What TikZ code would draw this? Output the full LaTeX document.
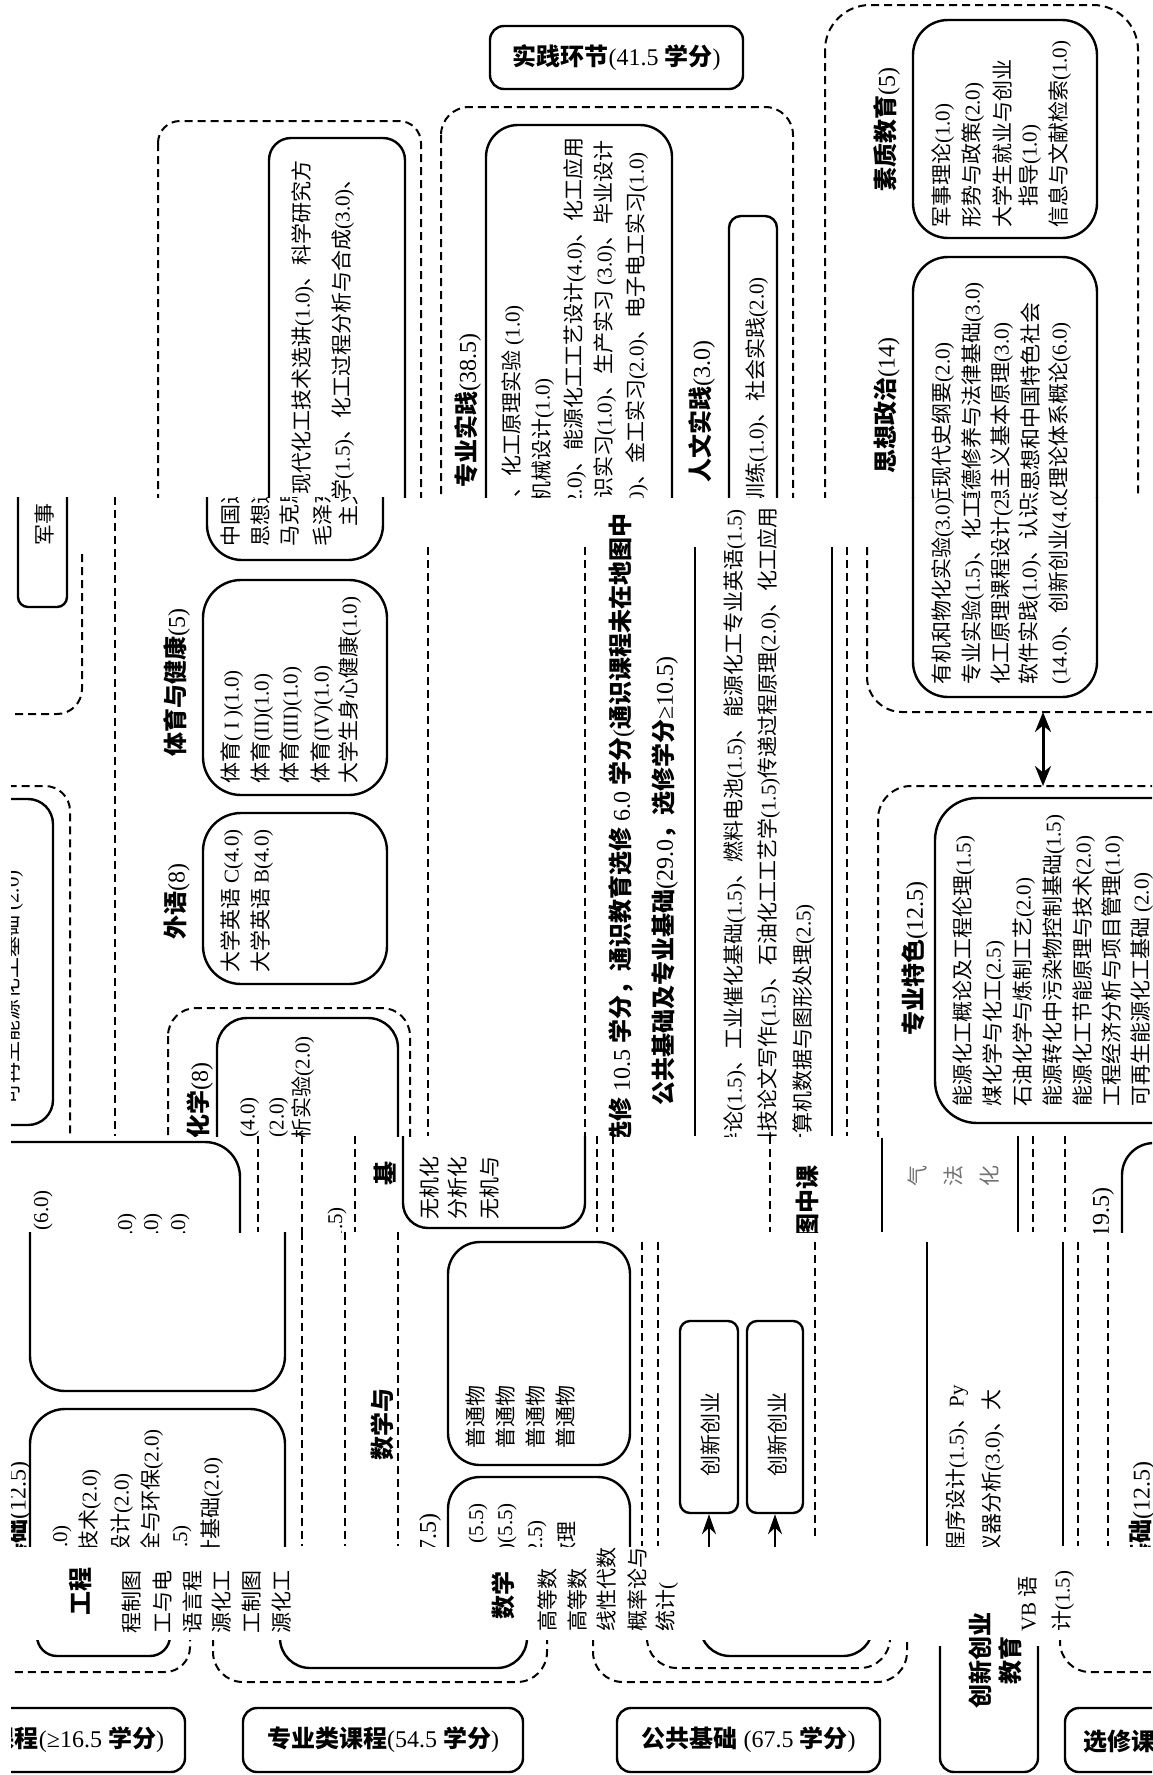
\documentclass[tikz,border=0pt]{standalone}
\usepackage{fontspec}
\setmainfont{Liberation Serif}[BoldFont={Liberation Serif}]
\newfontfamily\cjkf{Noto Sans CJK SC}
\XeTeXinterchartokenstate=1
\newXeTeXintercharclass\cjkcls
\makeatletter
\count@="3000
\loop\XeTeXcharclass\count@=\cjkcls\ifnum\count@<"303F\advance\count@\@ne\repeat
\count@="4E00
\loop\XeTeXcharclass\count@=\cjkcls\ifnum\count@<"9FFF\advance\count@\@ne\repeat
\count@="FF01
\loop\XeTeXcharclass\count@=\cjkcls\ifnum\count@<"FF5E\advance\count@\@ne\repeat
\makeatother
\XeTeXinterchartoks 0 \cjkcls = {\cjkf}
\XeTeXinterchartoks 4095 \cjkcls = {\cjkf}
\XeTeXinterchartoks \cjkcls 0 = {\rmfamily}
\XeTeXinterchartoks \cjkcls 4095 = {\rmfamily}
\usetikzlibrary{arrows.meta}
\tikzset{
  vt/.style={rotate=90, inner sep=0pt, font=\fontsize{21}{25}\selectfont},
  vh/.style={rotate=90, inner sep=0pt, font=\fontsize{24}{28}\selectfont\bfseries},
  sbox/.style={draw, line width=2.4pt, rounded corners=#1},
  sbox/.default=30pt,
  dbox/.style={draw, line width=2pt, dash pattern=on 8pt off 5pt, rounded corners=#1},
  dbox/.default=30pt,
  dl/.style={draw, line width=2pt, dash pattern=on 8pt off 5pt},
  sl/.style={draw, line width=2.4pt},
  lbl/.style={draw, line width=2.4pt, rounded corners=14pt, inner sep=0pt, font=\fontsize{24}{28}\selectfont\bfseries},
  hbox/.style={draw, line width=2.4pt, rounded corners=10pt, inner sep=0pt},
  arr/.style={line width=2.4pt, -{Stealth[length=20pt,width=14pt]}},
  darr/.style={line width=3pt, {Stealth[length=20pt,width=16pt]}-{Stealth[length=20pt,width=16pt]}},
  frag/.style={rotate=90, inner sep=0pt, font=\fontsize{21}{25}\selectfont, text=black!55},
}
\begin{document}
\begin{tikzpicture}[x=1pt,y=-1pt]
\useasboundingbox (0,0) rectangle (1152,1775);
\fill[white] (0,0) rectangle (1152,1775);
\begin{scope}
\clip (11,0) rectangle (1152,1775);

% ================= TOP BAND =================
\begin{scope}
\clip (11,0) rectangle (1152,497);
\draw[dbox=22pt] (158,121) rectangle (421,700);
\draw[sbox=22pt] (269,138) rectangle (405,700);
\node[vt, anchor=east] (a1) at (303,160) {现代化工技术选讲(1.0)、科学研究方};
\node[vt, anchor=east] (a2) at (343,168) {数学(1.5)、化工过程分析与合成(3.0)、};
\node[lbl, minimum width=253pt, minimum height=63pt] (sj) at (616.5,57.5) {实践环节(41.5 学分)};
\draw[dbox=28pt] (441,107) rectangle (793,700);
\draw[sbox=32pt] (486,125) rectangle (672,700);
\node[vh, anchor=east] (zysj) at (468,333) {专业实践(38.5)};
\node[vt, anchor=east] (b1) at (513,305) {有机和物化实验(3.0)、化工原理实验 (1.0)};
\node[vt, anchor=east] (b2) at (543,378) {专业实验(1.5)、化工机械设计(1.0)};
\node[vt, anchor=east] (b3) at (575,137) {化工原理课程设计(2.0)、能源化工工艺设计(4.0)、化工应用};
\node[vt, anchor=east] (b4) at (605,140) {软件实践(1.0)、认识实习(1.0)、生产实习 (3.0)、毕业设计};
\node[vt, anchor=east] (b5) at (637,152) {(14.0)、创新创业(4.0)、金工实习(2.0)、电子电工实习(1.0)};
\node[vh, anchor=east] (rwsj) at (702,340) {人文实践(3.0)};
\draw[sbox=12pt] (729,216) rectangle (777,700);
\node[vt, anchor=east] (rw1) at (757,277) {军事训练(1.0)、社会实践(2.0)};
\draw[dbox=45pt] (825,5) rectangle (1138,700);
\draw[sbox=35pt] (913,20) rectangle (1097,238);
\node[vh, anchor=east] (szjy) at (887,67) {素质教育(5)};
\node[vt, anchor=west] (c1) at (943,228) {军事理论(1.0)};
\node[vt, anchor=west] (c2) at (973,228) {形势与政策(2.0)};
\node[vt, anchor=west] (c3) at (1002,228) {大学生就业与创业};
\node[vt, anchor=west] (c4) at (1030,207) {指导(1.0)};
\node[vt, anchor=west] (c5) at (1060,228) {信息与文献检索(1.0)};
\draw[sbox=35pt] (913,257) rectangle (1097,700);
\node[vh, anchor=east] (sxzz) at (887,337) {思想政治(14)};
\node[vt, anchor=east] (d1) at (943,342) {中国近现代史纲要(2.0)};
\node[vt, anchor=east] (d2) at (973,282) {思想道德修养与法律基础(3.0)};
\node[vt, anchor=east] (d3) at (1002,322) {马克思主义基本原理(3.0)};
\node[vt, anchor=east] (d4) at (1030,302) {毛泽东思想和中国特色社会};
\node[vt, anchor=east] (d5) at (1060,322) {主义理论体系概论(6.0)};
\end{scope}

% ================= MIDDLE BAND =================
\begin{scope}
\clip (11,497) rectangle (1152,1136);
\draw[sbox=10pt] (18,450) rectangle (67,607);
\node[vt, anchor=west] (js) at (45,546) {军事};
\draw[dbox=25pt] (82,554) -- (82,714) -- (-50,714);
\draw[dl] (115,497) -- (115,1136);
\draw[dbox=25pt] (-50,786) rectangle (70,1300);
\draw[sbox=25pt] (-100,799) rectangle (53,1125);
\node[vt, anchor=west] (kzs) at (12,1105) {可再生能源化工基础 (2.0)};
% 体育
\node[vh, anchor=west] (tyjk) at (177,757) {体育与健康(5)};
\draw[sbox=38pt] (203,580) rectangle (387,795);
\node[vt, anchor=west] (e1) at (232,784) {体育( I )(1.0)};
\node[vt, anchor=west] (e2) at (262,784) {体育(II)(1.0)};
\node[vt, anchor=west] (e3) at (291,784) {体育(III)(1.0)};
\node[vt, anchor=west] (e4) at (322,784) {体育(IV)(1.0)};
\node[vt, anchor=west] (e5) at (350,784) {大学生身心健康(1.0)};
% fragment box
\draw[sbox=35pt] (207,300) rectangle (383,560);
\node[vt, anchor=west] (f1) at (232,547) {中国近现代史纲要(2.0)};
\node[vt, anchor=west] (f2) at (262,547) {思想道德修养与法律基础(3.0)};
\node[vt, anchor=west] (f3) at (291,547) {马克思主义基本原理(3.0)};
\node[vt, anchor=west] (f4) at (322,547) {毛泽东思想和中国特色社会};
\node[vt, anchor=west] (f5) at (350,527) {主义理论体系概论(6.0)};
% 外语
\node[vh, anchor=west] (wy) at (177,940) {外语(8)};
\draw[sbox=38pt] (203,813) rectangle (387,984);
\node[vt, anchor=west] (w1) at (232,973) {大学英语 C(4.0)};
\node[vt, anchor=west] (w2) at (262,973) {大学英语 B(4.0)};
% 化学
\draw[dbox=28pt] (168,1008) rectangle (410,1400);
\draw[sbox=30pt] (217,1018) rectangle (398,1400);
\node[vh, anchor=east] (hx) at (200,1062) {化学(8)};
\node[vt, anchor=east] (h1t) at (248,1097) {无机化学(4.0)};
\node[vt, anchor=east] (h2t) at (277,1097) {分析化学(2.0)};
\node[vt, anchor=east] (h3t) at (303,1036) {无机与分析实验(2.0)};
% centre
\draw[dl] (428,547) -- (428,1136);
\draw[dl] (585,547) -- (585,1136);
\node[vh, anchor=east] (g1) at (622,513) {选修 10.5 学分，通识教育选修 6.0 学分(通识课程未在地图中};
\node[vh, anchor=east] (g2) at (665,656) {公共基础及专业基础(29.0，选修学分≥10.5)};
\draw[sl] (695,547) -- (695,1136);
\node[vt, anchor=east] (m1) at (735,509) {学科专业导论(1.5)、工业催化基础(1.5)、燃料电池(1.5)、能源化工专业英语(1.5)};
\node[vt, anchor=east] (m2) at (769,507) {科技论文写作(1.5)、石油化工工艺学(1.5)传递过程原理(2.0)、化工应用};
\node[vt, anchor=east] (m3) at (804,904) {计算机数据与图形处理(2.5)};
\draw[sl] (832,547) -- (832,1136);
\draw[dl] (847,547) -- (847,1136);
% container C bottom
\draw[dbox=35pt] (867,547) -- (867,712) -- (1220,712);
\draw[sbox=35pt] (913,450) rectangle (1097,697);
\node[vt, anchor=west] (p1) at (943,685) {有机和物化实验(3.0)};
\node[vt, anchor=west] (p2) at (973,685) {专业实验(1.5)、化工机械设计(1.0)};
\node[vt, anchor=west] (p3) at (1002,685) {化工原理课程设计(2.0)};
\node[vt, anchor=west] (p4) at (1030,685) {软件实践(1.0)、认识实习(1.0)};
\node[vt, anchor=west] (p5) at (1060,685) {(14.0)、创新创业(4.0)};
\coordinate (cbot) at (1043,712);
\coordinate (dtop) at (1043,786);
\draw[darr] (cbot) -- (dtop);
% 专业特色
\draw[dbox=33pt] (878,786) rectangle (1300,1400);
\draw[sbox=42pt] (935,798) rectangle (1300,1123);
\node[vh, anchor=west] (zyts) at (915,1036) {专业特色(12.5)};
\node[vt, anchor=west] (q1) at (964,1107) {能源化工概论及工程伦理(1.5)};
\node[vt, anchor=west] (q2) at (994,1107) {煤化学与化工(2.5)};
\node[vt, anchor=west] (q3) at (1024,1107) {石油化学与炼制工艺(2.0)};
\node[vt, anchor=west] (q4) at (1054,1107) {能源转化中污染物控制基础(1.5)};
\node[vt, anchor=west] (q5) at (1084,1107) {能源化工节能原理与技术(2.0)};
\node[vt, anchor=west] (q6) at (1113,1107) {工程经济分析与项目管理(1.0)};
\node[vt, anchor=west] (q7) at (1142,1107) {可再生能源化工基础 (2.0)};
\end{scope}

% ================= BAND 3 =================
\begin{scope}
\clip (11,1136) rectangle (1152,1232);
\draw[sbox=35pt] (-100,1142) rectangle (240,1500);
\node[vt, anchor=east] (r1) at (43,1190) {(6.0)};
\node[vt, anchor=east] (r2) at (127,1213) {(2.0)};
\node[vt, anchor=east] (r3) at (153,1213) {(2.0)};
\node[vt, anchor=east] (r4) at (180,1213) {(2.0)};
\draw[dl] (258,1136) -- (258,1232);
\draw[dl] (302,1136) -- (302,1232);
\node[vt, anchor=east] (r5) at (337,1207) {(1.5)};
\draw[dl] (355,1136) -- (355,1232);
\node[vh] (ji) at (385,1173) {基};
\draw[sbox=25pt] (403,1000) rectangle (585,1228);
\node[vt, anchor=west] (s1) at (430,1220) {无机化};
\node[vt, anchor=west] (s2) at (458,1220) {分析化};
\node[vt, anchor=west] (s3) at (490,1220) {无机与};
\draw[dl] (597,1136) -- (597,1232);
\draw[dl] (613,1136) -- (613,1232);
\draw[dl] (770,1136) -- (770,1232);
\node[vh, anchor=west] (tzk) at (807,1238) {图中课};
\draw[sl] (882,1138) -- (882,1232);
\node[frag] (fq) at (917,1176) {气};
\node[frag] (ff) at (953,1176) {法};
\node[frag] (fh) at (990,1176) {化};
\draw[sl] (1018,1136) -- (1018,1232);
\draw[dl] (1033,1136) -- (1033,1232);
\draw[dl] (1065,1136) -- (1065,1232);
\node[vh, anchor=east] (r6) at (1103,1187) {(19.5)};
\draw[sbox=32pt] (1122,1143) rectangle (1300,1500);
\end{scope}

% ================= BAND 4 =================
\begin{scope}
\clip (11,1232) rectangle (1152,1546);
\draw[sbox=35pt] (30,1100) rectangle (285,1391);
\draw[sbox=35pt] (30,1409) rectangle (285,1700);
\node[vh, anchor=east] (gcjc) at (18,1461) {工程基础(12.5)};
\node[vt, anchor=east] (u1) at (62,1525) {(2.0)};
\node[vt, anchor=east] (u2) at (90,1469) {分析技术(2.0)};
\node[vt, anchor=east] (u3) at (122,1473) {化工设计(2.0)};
\node[vt, anchor=east] (u4) at (152,1429) {化工安全与环保(2.0)};
\node[vt, anchor=east] (u5) at (182,1525) {(1.5)};
\node[vt, anchor=east] (u6) at (212,1457) {化工设计基础(2.0)};
\draw[dl] (302,1232) -- (302,1546);
\draw[dl] (345,1232) -- (345,1546);
\node[vh, anchor=west] (sxy) at (382,1461) {数学与};
\draw[dl] (398,1232) -- (398,1546);
\draw[sbox=32pt] (448,1242) rectangle (630,1465);
\node[vt, anchor=west] (v1) at (475,1449) {普通物};
\node[vt, anchor=west] (v2) at (505,1449) {普通物};
\node[vt, anchor=west] (v3) at (535,1449) {普通物};
\node[vt, anchor=west] (v4) at (565,1449) {普通物};
\node[vh, anchor=east] (sx175) at (430,1513) {(17.5)};
\draw[sbox=32pt] (448,1477) rectangle (630,1700);
\node[vt, anchor=east] (x1) at (478,1503) {(5.5)};
\node[vt, anchor=east] (x2) at (507,1503) {(II)(5.5)};
\node[vt, anchor=east] (x3) at (537,1520) {(2.5)};
\node[vt, anchor=east] (x4) at (567,1521) {数理};
\draw[dl] (642,1242) -- (642,1546);
\draw[dl] (658,1242) -- (658,1546);
\node[hbox, minimum width=58pt, minimum height=192pt] (cx1) at (709,1417) {};
\node[vt, anchor=west] (cx1t) at (710,1477) {创新创业};
\node[hbox, minimum width=56pt, minimum height=192pt] (cx2) at (775,1417) {};
\node[vt, anchor=west] (cx2t) at (777,1477) {创新创业};
\coordinate (ar1) at (709,1580);
\coordinate (ar2) at (775,1580);
\draw[arr] (ar1) -- (cx1.south);
\draw[arr] (ar2) -- (cx2.south);
\draw[dl] (815,1242) -- (815,1539);
\draw[sl] (927,1242) -- (927,1546);
\node[vt, anchor=east] (y1) at (957,1385) {C语言程序设计(1.5)、Py};
\node[vt, anchor=east] (y2) at (993,1389) {现代仪器分析(3.0)、大};
\draw[sl] (1063,1242) -- (1063,1546);
\draw[dl] (1078,1242) -- (1078,1546);
\draw[dl] (1108,1242) -- (1108,1546);
\node[vh, anchor=east] (jc125) at (1142,1461) {基础(12.5)};
\end{scope}

% ================= BAND 5 =================
\begin{scope}
\clip (11,1546) rectangle (1152,1700);
\node[vh, anchor=west] (gc) at (80,1616) {工程};
\node[vt, anchor=west] (z1) at (132,1634) {程制图};
\node[vt, anchor=west] (z2) at (162,1634) {工与电};
\node[vt, anchor=west] (z3) at (192,1634) {语言程};
\node[vt, anchor=west] (z4) at (222,1634) {源化工};
\node[vt, anchor=west] (z5) at (252,1634) {工制图};
\node[vt, anchor=west] (z6) at (282,1634) {源化工};
\node[vh, anchor=west] (sxb) at (503,1620) {数学};
\node[vt, anchor=west] (k1) at (547,1632) {高等数};
\node[vt, anchor=west] (k2) at (577,1632) {高等数};
\node[vt, anchor=west] (k3) at (607,1632) {线性代数};
\node[vt, anchor=west] (k4) at (637,1632) {概率论与};
\node[vt, anchor=west] (k5) at (667,1632) {统计(};
\node[vt, anchor=west] (vb) at (1028,1632) {VB 语};
\node[vt, anchor=west] (vb2) at (1063,1632) {计(1.5)};
\begin{scope}
\clip (11,1640) rectangle (1152,1700);
\draw[sbox=20pt] (37,1400) rectangle (170,1656);
\draw[dbox=25pt] (-100,1400) rectangle (190,1672);
\draw[dbox=30pt] (213,1400) rectangle (547,1682);
\draw[sbox=30pt] (280,1400) rectangle (527,1668);
\draw[dbox=30pt] (593,1400) rectangle (907,1682);
\draw[dbox=30pt] (647,1400) rectangle (890,1668);
\draw[sbox=30pt] (700,1400) rectangle (873,1656);
\draw[dbox=30pt] (1060,1400) rectangle (1300,1672);
\end{scope}
\end{scope}

% ================= BOTTOM LABELS =================
\node[lbl, minimum width=215pt, minimum height=64pt] (lab1) at (77.5,1740) {课程(≥16.5 学分)};
\node[lbl, minimum width=280pt, minimum height=64pt] (lab2) at (383,1740) {专业类课程(54.5 学分)};
\node[lbl, minimum width=263pt, minimum height=64pt] (lab3) at (748.5,1740) {公共基础 (67.5 学分)};
\draw[sbox=14pt] (940,1646) -- (940,1772) -- (1038,1772) -- (1038,1646);
\node[vh, align=center, font=\fontsize{24}{30}\selectfont\bfseries] (lab4) at (995,1660) {创新创业\\教育};
\node[lbl, minimum width=200pt, minimum height=64pt] (lab5) at (1165,1740) {};
\node[inner sep=0pt, anchor=west, font=\fontsize{24}{28}\selectfont\bfseries] (lab5t) at (1083,1742) {选修课程};
\end{scope}
\end{tikzpicture}
\end{document}
